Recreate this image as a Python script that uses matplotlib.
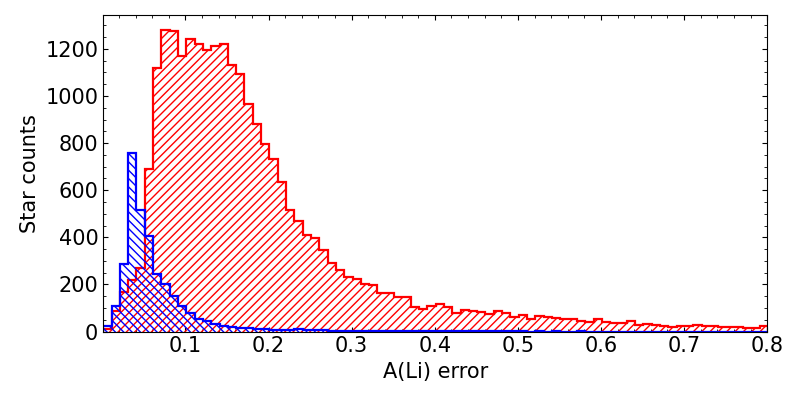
import numpy as np
import matplotlib
matplotlib.use("Agg")
import matplotlib.pyplot as plt
from matplotlib.ticker import MultipleLocator

# bin edges (A(Li) error), width 0.01
bin_start = 0.001
bin_width = 0.01
n_bins = 80

red_counts = [12, 87, 168, 218, 268, 692, 1118, 1280, 1274, 1170,
              1242, 1222, 1197, 1214, 1222, 1130, 1094, 967, 882, 797,
              734, 636, 516, 468, 409, 397, 345, 292, 263, 232,
              222, 201, 196, 162, 165, 148, 145, 105, 98, 109,
              117, 103, 81, 90, 87, 84, 74, 88, 77, 61,
              70, 54, 67, 60, 56, 52, 54, 45, 42, 53,
              39, 36, 35, 46, 28, 33, 28, 25, 21, 22,
              25, 27, 25, 23, 21, 19, 20, 17, 17, 24]

blue_counts = [23, 108, 285, 758, 515, 405, 245, 200, 152, 110,
               77, 53, 45, 32, 23, 18, 15, 14, 9, 9,
               6, 6, 8, 9, 8, 7, 5, 4, 4, 3,
               3, 4, 3, 2, 3, 2, 2, 3, 2, 2,
               2, 1, 2, 1, 2, 1, 1, 2, 1, 1,
               1, 0, 1, 0, 1, 0, 0, 1, 0, 0,
               0, 0, 0, 0, 0, 0, 0, 0, 0, 0,
               0, 0, 0, 0, 0, 0, 0, 0, 0, 0]

xticks = [0.1, 0.2, 0.3, 0.4, 0.5, 0.6, 0.7, 0.8]
yticks = [0, 200, 400, 600, 800, 1000, 1200]

edges = bin_start + bin_width * np.arange(n_bins + 1)
centers = 0.5 * (edges[:-1] + edges[1:])

plt.rcParams['hatch.linewidth'] = 1.0
fig = plt.figure(figsize=(8, 4), dpi=100)
ax = fig.add_axes([0.129, 0.171, 0.83, 0.7915])

ax.hist(centers, bins=edges, weights=red_counts, histtype='step',
        color='red', hatch='////', linewidth=1.6)
ax.hist(centers, bins=edges, weights=blue_counts, histtype='step',
        color='blue', hatch='\\\\\\\\', linewidth=1.6)

ax.set_xlim(edges[0], 0.8)
ax.set_xticks(xticks)
ax.set_yticks(yticks)
ax.xaxis.set_minor_locator(MultipleLocator(0.02))
ax.yaxis.set_minor_locator(MultipleLocator(50))
ax.tick_params(which='both', direction='in', top=True, right=True, labelsize=15)
ax.set_xlabel('A(Li) error', fontsize=15)
ax.set_ylabel('Star counts', fontsize=15)

fig.savefig('out.png', dpi=100)
